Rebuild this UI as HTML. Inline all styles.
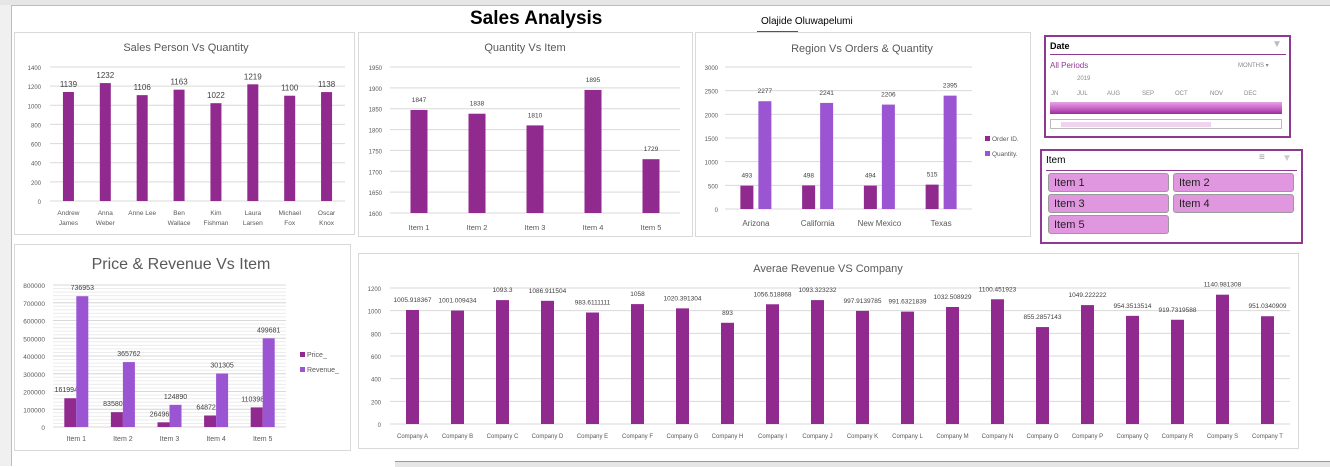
<!DOCTYPE html>
<html><head><meta charset="utf-8">
<style>
html,body{margin:0;padding:0;background:#fff;}
body{width:1330px;height:466px;position:relative;overflow:hidden;font-family:"Liberation Sans",sans-serif;}
.abs{position:absolute;}
.box{position:absolute;border:1px solid #d9d9d9;background:#fff;box-sizing:border-box;}
.btn{position:absolute;background:#e197df;border:1px solid #9a9a9a;border-radius:3px;box-sizing:border-box;font-size:11px;color:#222;padding:3px 0 0 5px;height:19px;width:121px;}
</style></head>
<body>
<div class="abs" style="left:0;top:0;width:1330px;height:5px;background:#e6e6e6;border-bottom:1px solid #bdbdbd;"></div>
<div class="abs" style="left:0;top:5px;width:11px;height:461px;background:#f0f0f0;border-right:1px solid #bdbdbd;"></div>
<div class="abs" style="left:395px;top:461px;width:935px;height:5px;background:#e6e6e6;border-top:1px solid #9a9a9a;"></div>

<div class="abs" style="left:470px;top:8px;font-size:19px;font-weight:bold;color:#000;">Sales Analysis</div>
<div class="abs" style="left:761px;top:16px;font-size:10px;color:#000;">Olajide Oluwapelumi</div>
<div class="abs" style="left:757px;top:31px;width:41px;height:1px;background:#217346;"></div>

<div class="box" style="left:14px;top:32px;width:341px;height:203px;"></div>
<div class="box" style="left:358px;top:32px;width:335px;height:205px;"></div>
<div class="box" style="left:695px;top:32px;width:336px;height:205px;"></div>
<div class="box" style="left:14px;top:244px;width:337px;height:207px;"></div>
<div class="box" style="left:358px;top:253px;width:941px;height:196px;"></div>

<div class="abs" style="left:1044px;top:35px;width:247px;height:103px;border:2px solid #8e3a93;box-sizing:border-box;">
  <div class="abs" style="left:4px;top:4px;font-size:9px;font-weight:bold;color:#000;">Date</div>
  <div class="abs" style="left:226px;top:2px;font-size:10px;color:#bbb;">&#9660;</div>
  <div class="abs" style="left:4px;top:17px;width:236px;height:1px;background:#8e3a93;"></div>
  <div class="abs" style="left:4px;top:24px;font-size:8px;color:#8e3a93;">All Periods</div>
  <div class="abs" style="left:192px;top:25px;font-size:6px;color:#888;">MONTHS &#9662;</div>
  <div class="abs" style="left:31px;top:39px;font-size:6px;color:#888;">2019</div>
  <div class="abs" style="left:5px;top:54px;width:236px;font-size:6px;color:#888;">
    <span style="position:absolute;left:0">JN</span><span style="position:absolute;left:26px">JUL</span><span style="position:absolute;left:56px">AUG</span><span style="position:absolute;left:91px">SEP</span><span style="position:absolute;left:124px">OCT</span><span style="position:absolute;left:159px">NOV</span><span style="position:absolute;left:193px">DEC</span>
  </div>
  <div class="abs" style="left:4px;top:65px;width:232px;height:12px;background:linear-gradient(#e7a3e4,#c45cc4 60%,#9a2d96);"></div>
  <div class="abs" style="left:4px;top:82px;width:232px;height:10px;border:1px solid #bbb;box-sizing:border-box;background:#fff;">
    <div class="abs" style="left:10px;top:2px;width:150px;height:5px;background:#f0d4ef;"></div>
  </div>
</div>

<div class="abs" style="left:1040px;top:149px;width:263px;height:95px;border:2px solid #8e3a93;box-sizing:border-box;">
  <div class="abs" style="left:4px;top:4px;font-size:10px;color:#000;">Item</div>
  <div class="abs" style="left:217px;top:1px;font-size:10px;color:#999;">&#8801;</div>
  <div class="abs" style="left:240px;top:2px;font-size:10px;color:#ccc;">&#9660;</div>
  <div class="abs" style="left:4px;top:19px;width:251px;height:1px;background:#8e3a93;"></div>
  <div class="btn" style="left:6px;top:22px;">Item 1</div>
  <div class="btn" style="left:131px;top:22px;">Item 2</div>
  <div class="btn" style="left:6px;top:43px;">Item 3</div>
  <div class="btn" style="left:131px;top:43px;">Item 4</div>
  <div class="btn" style="left:6px;top:64px;">Item 5</div>
</div>

<svg id="charts" class="abs" style="left:0;top:0" width="1330" height="466" xmlns="http://www.w3.org/2000/svg"></svg>

<script>
const personNames = [["Andrew","James"],["Anna","Weber"],["Anne Lee",""],["Ben","Wallace"],["Kim","Fishman"],["Laura","Larsen"],["Michael","Fox"],["Oscar","Knox"]];
const personQty = [1139,1232,1106,1163,1022,1219,1100,1138];
const personTicks = [0,200,400,600,800,1000,1200,1400];
const itemNames = [["Item 1"],["Item 2"],["Item 3"],["Item 4"],["Item 5"]];
const itemQty = [1847,1838,1810,1895,1729];
const itemQtyTicks = [1600,1650,1700,1750,1800,1850,1900,1950];
const regionNames = [["Arizona"],["California"],["New Mexico"],["Texas"]];
const regionOrders = [493,498,494,515];
const regionQty = [2277,2241,2206,2395];
const regionTicks = [0,500,1000,1500,2000,2500,3000];
const priceItems = [["Item 1"],["Item 2"],["Item 3"],["Item 4"],["Item 5"]];
const itemPrice = [161994,83580,26496,64872,110398];
const itemRevenue = [736953,365762,124890,301305,499681];
const priceTicks = [0,100000,200000,300000,400000,500000,600000,700000,800000];
const companies = ["A","B","C","D","E","F","G","H","I","J","K","L","M","N","O","P","Q","R","S","T"].map(c=>["Company "+c]);
const companyAvgRevenue = [1005.918367,1001.009434,1093.3,1086.911504,983.6111111,1058,1020.391304,893,1056.518868,1093.323232,997.9139785,991.6321839,1032.508929,1100.451923,855.2857143,1049.222222,954.3513514,919.7319588,1140.981308,951.0340909];
const companyTicks = [0,200,400,600,800,1000,1200];

const DARK="#912a8f", LIGHT="#9b55d3";
const svg=document.getElementById('charts');
const NS="http://www.w3.org/2000/svg";
function mk(tag,attrs,parent){const e=document.createElementNS(NS,tag);for(const k in attrs)e.setAttribute(k,attrs[k]);(parent||svg).appendChild(e);return e;}
function txt(str,x,y,size,anchor,fill,parent){const t=mk('text',{x:x,y:y,'font-size':size,'text-anchor':anchor||'middle',fill:fill||'#595959','font-family':'Liberation Sans, sans-serif'},parent);t.textContent=str;return t;}

function chart(o){
  const g=mk('g',{});
  
  
  const min=o.ticks[0],max=o.ticks[o.ticks.length-1];
  const ys=v=>o.yBot-(v-min)/(max-min)*(o.yBot-o.yTop);
  const n=o.cats.length,step=(o.x1-o.x0)/n;
  const xc=i=>o.x0+(i+0.5)*step;
  const gap=o.gap||0;
  if(o.minor){for(let v=min;v<=max;v+=o.minor){mk('line',{x1:o.x0,x2:o.x1,y1:ys(v),y2:ys(v),stroke:'#ececec','stroke-width':1},g);}}
  o.ticks.forEach(v=>{
    mk('line',{x1:o.x0,x2:o.x1,y1:ys(v),y2:ys(v),stroke:'#d9d9d9','stroke-width':1},g);
    const t=txt(String(v),o.x0-o.tickGap,ys(v)+3,o.tickSize,'end','#595959',g);
    
    
  });
  const ns=o.series.length;
  const groupW=ns*o.barW+(ns-1)*gap;
  o.cats.forEach((c,i)=>{
    c.forEach((line,j)=>{
      const t=txt(line,xc(i),o.catY+j*10,o.catSize,'middle','#595959',g);
      
      
    });
    o.series.forEach((s,k)=>{
      const v=s.vals[i];
      const bx=xc(i)-groupW/2+k*(o.barW+gap);
      const r=mk('rect',{x:bx,y:ys(v),width:o.barW,height:o.yBot-ys(v),fill:s.color},g);
      
      
      const l=txt(String(v),bx+o.barW/2+(s.lblDx||0),ys(v)-o.lblGap,o.lblSize,'middle','#404040',g);
      
      
    });
  });
  if(o.title){const t=txt(o.title,o.titleX,o.titleY,o.titleSize,'middle','#595959',g);}
  if(o.legend){o.legend.forEach((L,k)=>{
    const r=mk('rect',{x:o.legX,y:o.legY+k*15-5,width:5,height:5,fill:L.color},g);
    
    
    const t=txt(L.label,o.legX+7,o.legY+k*15,o.legSize,'start','#595959',g);
    
    
  });}
}

chart({name:'sales-person-plot',x0:50,x1:345,yTop:67,yBot:201,ticks:personTicks,cats:personNames,series:[{vals:personQty,color:DARK}],barW:11,tickGap:9,tickSize:6,catY:215,catSize:6.5,lblGap:5,lblSize:8,title:'Sales Person Vs Quantity',titleX:186,titleY:51,titleSize:11});
chart({name:'quantity-item-plot',x0:390,x1:680,yTop:67,yBot:213,ticks:itemQtyTicks,cats:itemNames,series:[{vals:itemQty,color:DARK}],barW:17,tickGap:8,tickSize:6,catY:230,catSize:7.5,lblGap:8,lblSize:6.5,title:'Quantity Vs Item',titleX:525,titleY:51,titleSize:11});
chart({name:'region-plot',x0:725,x1:972,yTop:67,yBot:209,ticks:regionTicks,cats:regionNames,series:[{vals:regionOrders,color:DARK},{vals:regionQty,color:LIGHT}],barW:13,gap:5,tickGap:7,tickSize:6,catY:226,catSize:8,lblGap:8,lblSize:6.5,title:'Region Vs Orders & Quantity',titleX:862,titleY:52,titleSize:11,legend:[{label:'Order ID.',color:DARK},{label:'Quantity.',color:LIGHT}],legX:985,legY:141,legSize:6.5});
chart({name:'price-revenue-plot',x0:53,x1:286,yTop:285,yBot:427,ticks:priceTicks,minor:20000,cats:priceItems,series:[{vals:itemPrice,color:DARK,lblDx:-4},{vals:itemRevenue,color:LIGHT}],barW:12,tickGap:8,tickSize:6.5,catY:441,catSize:7,lblGap:6,lblSize:7,title:'Price & Revenue Vs Item',titleX:181,titleY:269,titleSize:16,legend:[{label:'Price_',color:DARK},{label:'Revenue_',color:LIGHT}],legX:300,legY:357,legSize:7});
chart({name:'company-revenue-plot',x0:390,x1:1290,yTop:288,yBot:424,ticks:companyTicks,cats:companies,series:[{vals:companyAvgRevenue,color:DARK}],barW:13,tickGap:9,tickSize:6,catY:438,catSize:6,lblGap:8,lblSize:6.5,title:'Averae Revenue VS Company',titleX:828,titleY:272,titleSize:11});
</script>
</body></html>
